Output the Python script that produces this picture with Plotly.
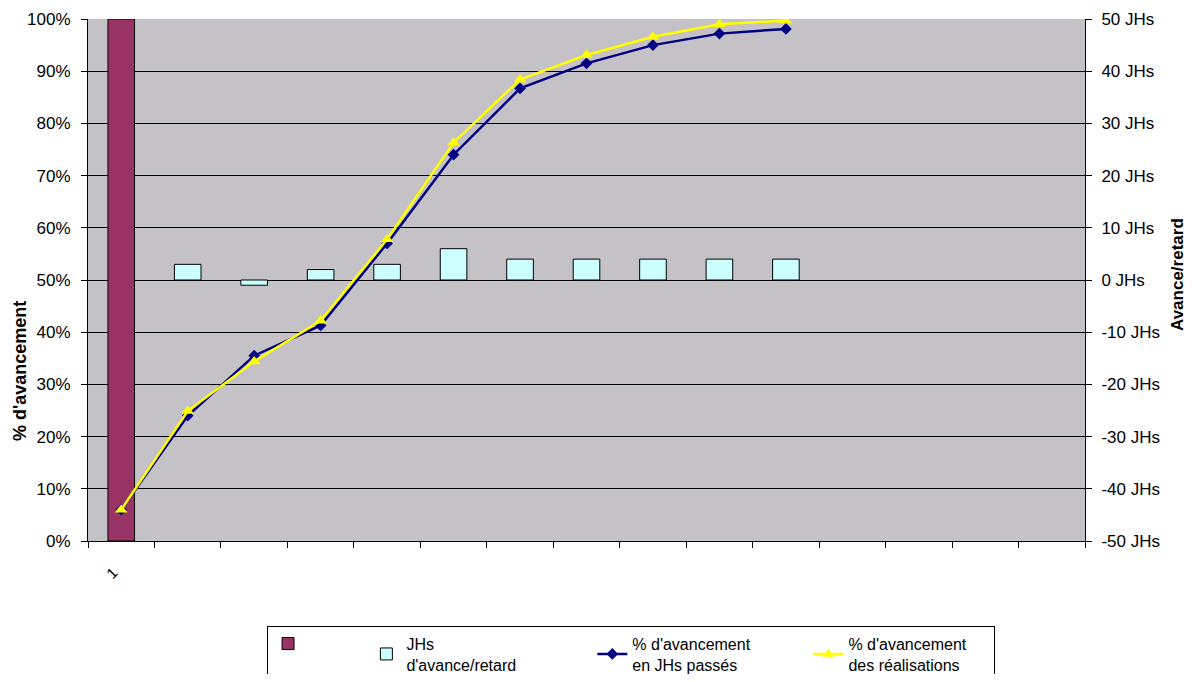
import plotly.graph_objects as go

# categories (15 slots, only the first is labelled)
categories = list(range(1, 16))
tick_labels = ["1"]

# maroon bar (left axis, %)
base_x = [1]
base_pct = [100]

# JHs d'avance/retard (right axis)
jhs_x = [2, 3, 4, 5, 6, 7, 8, 9, 10, 11]
jhs_values = [3, -1, 2, 3, 6, 4, 4, 4, 4, 4]

# % d'avancement (left axis)
line_x = [1, 2, 3, 4, 5, 6, 7, 8, 9, 10, 11]
pct_jhs_passes = [6, 24, 35.5, 41.3, 57, 74, 86.7, 91.5, 95, 97.2, 98.1]
pct_realisations = [6, 24.9, 34.4, 42.2, 57.8, 76.3, 88.4, 93.1, 96.6, 99, 99.7]

left_ticks = list(range(0, 101, 10))
right_ticks = list(range(-50, 51, 10))

font_family = "Arial, Liberation Sans, sans-serif"
nb = "\u00a0"

fig = go.Figure()

fig.add_trace(go.Bar(x=base_x, y=base_pct, name=nb * 12, width=0.4,
                     marker=dict(color="#993366", line=dict(color="black", width=1)),
                     yaxis="y"))
fig.add_trace(go.Bar(x=jhs_x, y=jhs_values, name="JHs<br>d'avance/retard" + nb * 16, width=0.4,
                     marker=dict(color="#CCFFFF", line=dict(color="black", width=1)),
                     yaxis="y2"))
fig.add_trace(go.Scatter(x=line_x, y=pct_jhs_passes,
                         name="% d'avancement" + nb * 12 + "<br>en JHs passés",
                         mode="lines+markers",
                         line=dict(color="#000080", width=2.5),
                         marker=dict(symbol="diamond", size=9, color="#000080"),
                         yaxis="y"))
fig.add_trace(go.Scatter(x=line_x, y=pct_realisations,
                         name="% d'avancement" + nb * 5 + "<br>des réalisations",
                         mode="lines+markers",
                         line=dict(color="#FFFF00", width=2.5),
                         marker=dict(symbol="triangle-up", size=11, color="#FFFF00"),
                         yaxis="y"))

fig.update_layout(
    width=1180, height=666,
    paper_bgcolor="white",
    plot_bgcolor="#C4C2C6",
    barmode="overlay",
    margin=dict(l=80, r=103, t=11, b=133),
    font=dict(family=font_family, size=16, color="black"),
    xaxis=dict(
        range=[0.5, 15.5], automargin=False,
        tickmode="array", tickvals=[1], ticktext=tick_labels, tickangle=-45,
        ticks="", showgrid=False, zeroline=False,
        showline=True, linecolor="black", linewidth=1,
        ticklabelstandoff=16, ticklabelshift=-8,
        minor=dict(tickmode="array", tickvals=[i + 0.5 for i in range(0, 16)],
                   ticks="outside", ticklen=6, tickcolor="black", showgrid=False),
        tickfont=dict(size=15),
    ),
    yaxis=dict(
        range=[0, 100], automargin=False, tickmode="array", tickvals=left_ticks,
        ticktext=[f"{v}%" for v in left_ticks],
        ticks="outside", ticklen=6, tickcolor="black", ticklabelstandoff=7,
        showgrid=True, gridcolor="black", gridwidth=1, zeroline=False,
        showline=True, linecolor="black", linewidth=1,
        tickfont=dict(size=17),
    ),
    yaxis2=dict(
        range=[-50, 50], automargin=False, tickmode="array", tickvals=right_ticks,
        ticktext=[f"{v} JHs" for v in right_ticks],
        overlaying="y", side="right",
        ticks="outside", ticklen=6, tickcolor="black", ticklabelstandoff=6,
        showgrid=False, zeroline=False,
        showline=True, linecolor="black", linewidth=1,
        tickfont=dict(size=17),
    ),
    legend=dict(
        orientation="h", xref="container", yref="container",
        x=0.528, xanchor="center", y=0.0726, yanchor="top",
        bordercolor="black", borderwidth=1, bgcolor="white",
        font=dict(size=16), traceorder="normal",
    ),
    annotations=[
        dict(text="<b>% d'avancement</b>", xref="paper", yref="paper",
             x=-0.068, y=0.326, textangle=-90, showarrow=False,
             xanchor="center", yanchor="middle", font=dict(size=18)),
        dict(text="<b>Avance/retard</b>", xref="paper", yref="paper",
             x=1.093, y=0.511, textangle=-90, showarrow=False,
             xanchor="center", yanchor="middle", font=dict(size=17)),
    ],
    showlegend=True,
)

fig.write_html("out.html")
